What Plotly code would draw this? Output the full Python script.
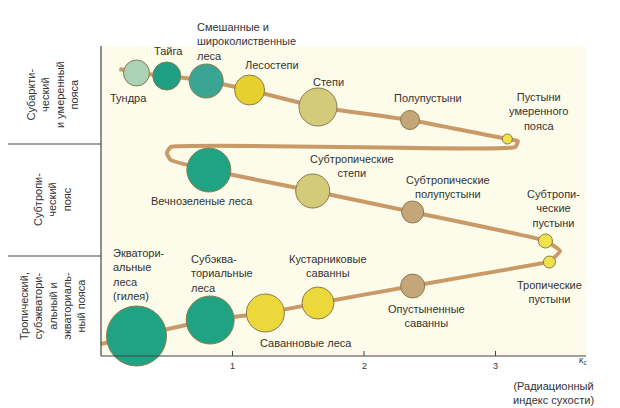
import plotly.graph_objects as go

# Biomes: radiation dryness index (x), diagram row (y, px from top), bubble radius, colour
names = ["Тундра","Тайга","Смешанные","Лесостепи","Степи","Полупустыни","Пустыни ум.",
         "Вечнозеленые","Субтроп. степи","Субтроп. полупустыни","Субтроп. пустыни",
         "Тропич. пустыни","Опустын. саванны","Кустарн. саванны","Саванновые леса","Субэкв. леса","Экв. леса"]
dryness = [0.27,0.50,0.80,1.13,1.65,2.35,3.09, 0.82,1.61,2.37,3.38, 3.41,2.37,1.65,1.25,0.83,0.27]
row =     [65,68,73,82,99,112,131, 162,183,204,233, 254,278,295,305,312,328]
radius =  [13,14,17,15,19,9.5,5, 22,17,11,7, 6,12,16,19,24,30]
colors = ["#a9d3b4","#1e9f84","#3aa592","#e6d02e","#d3cb7a","#c4a678","#f0e24a",
          "#1fa382","#d3cb7a","#c4a678","#f0e24a","#f0e24a","#c4a678","#ecd83a","#ecd83a","#1fa382","#1fa382"]
# path turning points
path_x = [0.14]+dryness[:7]+[3.17,3.15,0.53,0.50,0.53]+dryness[7:11]+[3.49,3.41]+dryness[11:]+[0.0]
path_y = [61]+row[:7]+[133,139,139,145,152]+row[7:11]+[243,254]+row[11:]+[336]
ticks = [1,2,3]

X0, K = 93, 131.5
def px(p): return (p - X0) / K

fig = go.Figure()
fig.add_trace(go.Scatter(x=path_x, y=path_y, mode="lines", line=dict(color="#c99a68", width=4, shape="spline", smoothing=0.4), hoverinfo="skip"))
fig.add_trace(go.Scatter(x=dryness, y=row, mode="markers",
    marker=dict(size=[2*r for r in radius], color=colors, line=dict(color="#8a7a50", width=1), opacity=1), hovertext=names))

ann = []
def t(x, y, s, anchor="center", size=11):
    ann.append(dict(x=px(x), y=y, text=s, showarrow=False, xanchor=anchor, yanchor="middle",
                    font=dict(size=size, color="#333"), align="left" if anchor=="left" else "center"))
t(187, 33, "Смешанные и<br>широколиственные<br>леса", "left")
t(160, 43, "Тайга"); t(120, 90, "Тундра"); t(264, 57, "Лесостепи"); t(320, 74, "Степи")
t(420, 90, "Полупустыни"); t(530, 103, "Пустыни<br>умеренного<br>пояса")
t(344, 158, "Субтропические<br>степи"); t(194, 193, "Вечнозеленые леса")
t(440, 179, "Субтропические<br>полупустыни"); t(545, 200, "Субтропи-<br>ческие<br>пустыни")
t(103, 266, "Экватори-<br>альные<br>леса<br>(гилея)", "left"); t(181, 265, "Субэква-<br>ториальные<br>леса", "left")
t(320, 258, "Кустарниковые<br>саванны"); t(541, 284, "Тропические<br>пустыни")
t(418, 308, "Опустыненные<br>саванны"); t(298, 335, "Саванновые леса")
t(545, 385, "(Радиационный<br>индекс сухости)")
t(575, 352, "κ<sub>c</sub>", size=9)
for v in ticks:
    ann.append(dict(x=v, y=358, text=str(v), showarrow=False, font=dict(size=9, color="#333")))
for yc, s in [(87, "Субаркти-<br>ческий<br>и умеренный<br>пояса"), (192, "Субтропи-<br>ческий<br>пояс"), (298, "Тропический,<br>субэкватори-<br>альный и<br>экваториаль-<br>ный пояса")]:
    ann.append(dict(x=px(44), y=yc, text=s, textangle=-90, showarrow=False, font=dict(size=11, color="#333")))

shapes = [dict(type="rect", x0=px(93), x1=px(578), y0=38, y1=348, fillcolor="#fdfbea", line_width=0, layer="below"),
          dict(type="line", x0=px(93), x1=px(93), y0=38, y1=348, line=dict(color="#444", width=1.2)),
          dict(type="line", x0=px(93), x1=px(578), y0=348, y1=348, line=dict(color="#444", width=1.2)),
          dict(type="line", x0=px(0), x1=px(93), y0=136, y1=136, line=dict(color="#444", width=1.2)),
          dict(type="line", x0=px(0), x1=px(93), y0=248, y1=248, line=dict(color="#444", width=1.2))]
for v in ticks:
    shapes.append(dict(type="line", x0=v, x1=v, y0=343, y1=348, line=dict(color="#444", width=1)))

fig.update_layout(width=620, height=408, margin=dict(l=0, r=0, t=0, b=0), showlegend=False,
    paper_bgcolor="white", plot_bgcolor="white", font=dict(family="Liberation Sans"),
    xaxis=dict(range=[px(0), px(620)], visible=False), yaxis=dict(range=[408, 0], visible=False),
    annotations=ann, shapes=shapes)
fig.write_html("out.html")
